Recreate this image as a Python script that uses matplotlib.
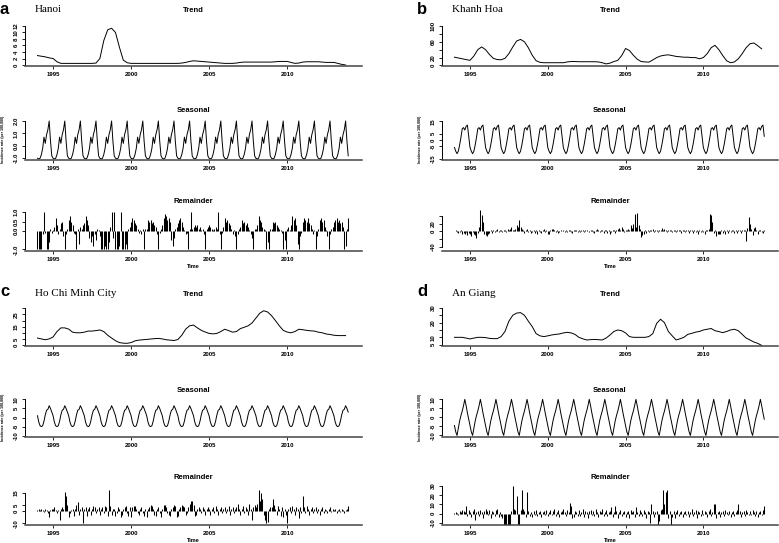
import numpy as np
import matplotlib.pyplot as plt

# monthly time axis 1994-2013 and quarterly points for the trend curves
months = 1994 + np.arange(240) / 12.0
quarters = 1994 + np.arange(80) / 4.0

# ---------------- a: Hanoi ----------------
hanoi_trend = [
    2.9, 2.7, 2.5, 2.2,   2.0, 1.0, 0.5, 0.5,   0.5, 0.5, 0.5, 0.5,
    0.5, 0.5, 0.5, 0.6,   2.0, 7.5, 10.8, 11.3, 10.0, 5.5, 1.5, 0.7,
    0.5, 0.5, 0.5, 0.5,   0.5, 0.5, 0.5, 0.5,   0.5, 0.5, 0.5, 0.5,
    0.5, 0.6, 0.8, 1.1,   1.3, 1.2, 1.1, 1.0,   0.9, 0.8, 0.7, 0.6,
    0.5, 0.5, 0.5, 0.6,   0.8, 0.9, 0.9, 0.9,   0.9, 0.9, 0.9, 0.9,
    0.9, 1.0, 1.1, 1.1,   1.1, 0.8, 0.5, 0.6,   0.9, 1.0, 1.0, 1.0,
    1.0, 0.9, 0.8, 0.8,   0.8, 0.5, 0.2, 0.0,
]
hanoi_season = [-1.0, -1.05, -1.0, -0.7, -0.2, 0.7, 0.2, 0.9, 1.3, 2.0, 0.4, -0.8]
hanoi_rem = [
    -1, -1, -1, -1, -0.2, 1.0, -0.1, -1, -1, -0.6, 0.1, -0.1,
    0.05, 0.2, 0.7, 0.3, -0.2, 0.1, 0.4, 0.5, -0.3, -1, -0.2, 0.1,
    0.6, 0.8, 0.5, 0.3, -0.1, -0.2, -1, 0.1, -0.7, 0.2, 0.1, 0.3,
    0.4, 0.8, 0.6, 0.3, -0.4, -0.6, -0.3, -0.8, -0.2, -0.5, 0.1, 0.05,
    -0.3, -1, -1, -1, -0.8, -1, -1, -0.6, 0.2, 1.0, -0.4, 1.0,
    -1, -1, -1, -0.8, 1.0, -1, -1, -1, -0.7, -1, 0.1, 0.2,
    0.5, 0.7, 0.6, 0.4, 0.3, 0.1, -0.1, 0.05, -0.2, 0.1, -1, 0.1,
    0.1, 0.6, 0.5, 0.6, 0.4, 0.5, 0.3, 0.2, -0.2, -1, -0.1, 0.1,
    0.3, 0.7, 0.9, 0.8, 0.6, 0.7, 0.5, -0.5, -0.8, -0.4, 0.1, 0.2,
    0.4, 0.6, 0.7, 0.5, 0.2, 0.05, -0.2, -0.1, -1, 0.1, 1.0, 0.1,
    0.2, 0.3, 0.2, 0.3, 0.1, 0.2, 0.05, 0.1, -0.2, -1, 0.1, 0.2,
    0.3, 0.2, 0.1, 0.05, 0.1, 0.2, 0.1, 1.0, -0.2, -1, -0.1, 0.2,
    0.7, 0.5, 0.6, 0.4, 0.3, 0.1, -0.2, 0.05, -0.3, -1, -0.2, 0.1,
    0.2, 0.6, 0.4, 0.5, 0.3, 0.4, 0.2, 0.05, -0.2, -0.4, -1, 0.1,
    0.1, 0.3, 0.8, 0.6, 0.5, 0.2, 0.1, 0.05, -1, -0.6, -1, 0.1,
    0.1, 0.5, 0.4, 0.5, 0.3, 0.2, 0.1, 0.05, -0.1, -1, -0.5, -1,
    0.1, 0.2, 0.05, 0.3, 0.8, 0.6, 0.7, 0.3, -0.7, -1, -0.3, -0.1,
    0.5, 0.7, 0.6, 0.5, 0.7, 0.4, 0.3, 0.1, -0.2, 0.05, -1, -0.3,
    0.1, 0.6, 0.7, 0.5, 0.6, 0.2, 0.05, -0.3, -1, -0.2, 0.1, 0.2,
    0.5, 0.6, 0.7, 0.5, 0.6, 0.4, 0.5, 0.2, -1, -0.8, 0.1, 0.7,
]

# ---------------- b: Khanh Hoa ----------------
khanh_trend = [
    21, 19, 17, 15,   13, 24, 40, 47,   40, 28, 18, 15,   14.5, 18, 30, 47,
    62, 66, 60, 45,   26, 12, 8, 7,     7, 7, 7, 7,       7, 9, 10, 10,
    9.5, 9.5, 9.5, 9.5, 9.5, 9, 7, 4,   6, 10, 13, 25,    43, 38, 26, 16,
    10, 9, 8.5, 14,   20, 24, 26, 27,   25, 23, 22, 21,   21, 20, 20, 17,
    20, 30, 45, 51,   40, 25, 12, 7,    9, 17, 30, 45,    55, 57, 50, 42,
]
khanh_season = [-6, -9, -11, -9, -4, 2, 9, 10, 8, 11, 12, 3]
khanh_rem = [
    0, 2, -3, -5, -2, 3, -6, -4, -8, -3, -10, -5,
    -8, -12, -3, -6, -10, -17, -4, 10, 54, 41, 25, -6,
    -10, -12, -8, -4, 2, -5, 3, -3, 4, 5, -2, 3,
    2, -3, 4, 3, -2, 5, 3, 6, 10, 4, 2, 5,
    15, 10, 28, 10, 6, 3, -4, 2, 5, -3, 4, -5,
    -3, 4, -5, 2, -6, 3, -2, -4, 3, 5, -3, 2,
    -8, -6, 3, 5, 7, 4, -3, 2, -4, -2, 3, 1,
    2, -3, 4, -2, 3, 2, -3, -4, 3, 4, 2, -2,
    3, -2, 2, 4, -3, 2, 3, 1, -2, 4, 2, -3,
    -4, 3, 5, 2, -3, 4, 2, -5, 3, 2, -4, 3,
    -6, -3, 4, 2, -4, 3, 6, 8, 3, 10, 5, -3,
    3, 2, 6, 4, 15, 8, 20, 45, 10, 48, 15, 5,
    -15, -10, -8, 3, -4, 2, -3, 3, 2, 5, -2, 3,
    2, -3, 4, 2, 8, 3, 5, 2, -3, 4, 2, 3,
    -2, 3, 2, -3, 4, 2, 3, -4, 2, 3, -2, 2,
    3, -4, 2, 3, -5, 2, -3, 3, -6, 2, -3, 3,
    -2, -8, 3, 2, 5, 45, 42, 25, -5, 3, -12, -8,
    -6, -8, 3, -5, 4, -6, 3, -4, 2, -3, 4, 2,
    -5, 3, -4, 2, 3, -5, 2, 3, 3, -25, 8, 36,
    20, 5, -10, 8, 12, 3, -6, 2, 4, -3, -5, 3,
]

# ---------------- c: Ho Chi Minh City ----------------
hcmc_trend = [
    5.7, 5.0, 4.3, 5.0,   6.6, 11, 14, 14,     13, 10.5, 10, 10,   10.5, 11.4, 11.4, 11.8,
    12.3, 11, 8, 5.7,     3.5, 2, 1.5, 1.4,    2, 3.4, 4, 4.3,     4.6, 4.9, 5.2, 5.4,
    5, 4.3, 4, 3.7,       4.5, 8, 13, 15.7,    16.3, 14, 12, 10.6, 9.5, 9.1, 9.5, 11,
    12.9, 11.8, 10.5, 11, 13.4, 14.5, 15.7, 18, 22, 26, 28, 27,    24, 20, 15.7, 12,
    10.6, 10, 11, 12.9,   12.5, 12, 11.6, 11.4, 10.5, 10, 9, 8.6,  8, 7.7, 7.7, 7.7,
]
hcmc_season = [1, -2.5, -4.5, -5, -4.5, -2, 1.5, 4, 4.5, 6.5, 5, 3]
hcmc_rem = [
    1, 2, 1, 2, 1, -1, 2, 1, -2, -5, 1, 2,
    2, 3, 1, -2, 1, -7, 2, 3, 2, 15.5, 12, 5,
    -5, -2, 1, 2, -4, 2, 5, 7, -3, 2, 3, -10,
    2, 3, -4, 2, 3, -3, 2, 4, 3, -2, 2, 3,
    -3, 2, 3, -2, 4, 3, -4, 17, 4, -3, 2, 2,
    -4, -2, 3, 2, -5, -3, 2, 3, 4, -2, -4, 3,
    -5, 3, 4, 4, 2, -2, -3, 2, 3, -2, -4, 2,
    -5, 2, 3, 5, 4, 2, -3, -4, 2, 3, -2, -5,
    2, 5, 5, 3, -2, -3, -4, 2, 3, 5, 4, -5,
    -4, 2, 3, 5, 4, 3, -3, -2, 3, 6, 8, 8,
    5, -4, -3, 2, 3, 2, -2, 3, 2, -3, 2, 3,
    2, -3, 2, 3, -2, 4, 2, -3, 2, 3, -2, 2,
    3, -2, 2, 4, -3, 2, 3, -2, 2, 3, 6, 2,
    -3, 2, 4, -2, 3, 2, -3, 6, 2, -7, 3, 5,
    3, 6, 17, 8, 15, 10, -3, -7, -10, -9, 2, 3,
    3, 10, 5, 2, -3, 4, 2, -4, 3, -5, 2, -3,
    -10, 2, 3, -2, 4, 2, -3, 3, 2, -6, 3, -2,
    12, 3, -2, 4, 2, -3, 2, 3, -2, 2, 3, -2,
    2, -3, 2, 3, -2, 2, 1, -2, 2, 3, -1, 2,
    1, 2, -2, 1, 2, -1, 2, 1, -2, 1, 2, 4,
]

# ---------------- d: An Giang ----------------
angiang_trend = [
    10, 10, 10, 9.5,     8.9, 9.5, 10, 10,    9.8, 9.3, 9.1, 9.1,  10.5, 14, 21, 25,
    26.5, 26.8, 25, 21,  17.3, 12.5, 11, 10.5, 11, 11.6, 12, 12.3, 13, 13.4, 13, 12,
    10, 9, 8.2, 8.4,     8.6, 8.4, 8.2, 9.5,  11.6, 14, 15, 14.5,  13, 10.5, 10, 10,
    10, 10, 10.5, 12.5,  19.5, 22.3, 20, 14,  11, 8.2, 9, 10,      12, 12.7, 13.5, 14,
    15, 15.5, 16, 14.5,  13.9, 13.2, 14, 15,  15.5, 14.5, 12, 9.5, 8.2, 6.8, 5.9, 4.5,
]
angiang_season = [-4.5, -8, -10, -6, -2, 1, 3.5, 6.5, 10, 6.5, 2.5, -1]
angiang_rem = [
    1, 2, 1, -2, 3, 2, 4, 3, 2, 8, -3, 4,
    2, -4, 3, 5, -7, 2, 3, -3, 4, 2, -5, 3,
    5, 3, -2, 4, -5, 3, 2, -3, 4, 5, -4, 2,
    -3, -5, -12, -12, -12, -12, -12, -12, 3, 30, 5, 4,
    19, -12, -12, 4, 26, 5, 3, -4, 24, 3, -3, 2,
    -4, 3, -2, 4, -3, 2, 3, -4, 2, 3, -2, 4,
    -3, 2, 4, -2, 3, 5, -3, 2, 4, -4, 2, 3,
    5, 2, -3, 4, 2, 12, 8, -5, -4, 3, 2, -3,
    4, -3, 2, 5, -4, 3, 2, -5, 3, 4, -2, 3,
    -3, 5, 2, -4, 3, 2, 5, -3, 2, 4, -3, 2,
    3, 7, -4, 2, 8, 3, -5, 2, 4, -3, 2, 3,
    -4, 2, 3, -5, 4, 2, 3, -4, 7, 2, -3, 4,
    2, -3, 4, 2, -5, 3, 2, -10, 10, 3, -4, 2,
    3, -12, -8, 4, 5, 26, 10, 24, 26, -5, 3, -12,
    -4, 3, -5, 2, 4, -3, 2, 3, -4, 2, 3, -2,
    3, -4, 2, 5, -3, 2, 4, -5, 3, 2, -3, 4,
    -2, 3, 2, -4, 3, 5, -3, 2, 10, 10, -5, 2,
    3, -4, 2, 3, -3, 4, 2, -2, 3, -4, 2, 3,
    -3, 2, 4, 10, 3, -4, 2, 3, -3, 4, 2, -2,
    3, -2, 4, 2, -3, 3, -4, 2, 3, -2, 4, 8,
]

year_ticks = [1995, 2000, 2005, 2010]
year_labels = ['1995', '2000', '2005', '2010']

W, H = 779, 543
fig = plt.figure(figsize=(W / 100, H / 100), dpi=100)
SANS = 'Liberation Sans'


def add_ax(l, t, r, b):
    return fig.add_axes([l / W, 1 - b / H, (r - l) / W, (b - t) / H])


def ftext(x, y, s, **kw):
    fig.text(x / W, 1 - y / H, s, **kw)


def style(ax, yticks, ylabels, ylim):
    ax.set_xlim(1993.2, 2014.8)
    ax.set_ylim(*ylim)
    ax.set_xticks(year_ticks)
    ax.set_xticklabels(year_labels, fontsize=4.3, family=SANS, fontweight='bold')
    ax.set_yticks(yticks)
    ax.set_yticklabels(ylabels, fontsize=4.3, family=SANS, fontweight='bold',
                       rotation=90, va='center')
    ax.spines['top'].set_visible(False)
    ax.spines['right'].set_visible(False)
    ax.spines['left'].set_bounds(min(yticks), max(yticks))
    ax.spines['left'].set_linewidth(0.7)
    ax.spines['bottom'].set_linewidth(1.1)
    ax.spines['bottom'].set_color('#444444')
    ax.tick_params(length=2, width=0.6, pad=2.5)
    ax.patch.set_alpha(0)


def panel(left, right, top, letter, city, trend, season, rem, spec):
    cx = (left + right) / 2
    # letter and city name
    ftext(left - 25, top + 9, letter, fontsize=12, fontweight='bold', family=SANS,
          va='center', ha='left')
    ftext(left + 10, top + 10, city, fontsize=8, family='Liberation Serif', va='center')
    rows = spec['rows']
    titles = ['Trend', 'Seasonal', 'Remainder']
    for i, (t, b, ty) in enumerate(rows):
        ax = add_ax(left, t, right, b)
        yt, yl, ylim = spec['ticks'][i]
        if i == 0:
            ax.plot(quarters, trend, color='black', lw=0.7)
        elif i == 1:
            ax.plot(months, np.tile(season, 20), color='black', lw=0.7)
            ftext(left - 21.5, (t + b) / 2, 'Incidence rate (per 100,000)', fontsize=2.6,
                  family=SANS, fontweight='bold', rotation=90, ha='center', va='center')
        else:
            ax.vlines(months, 0, rem, colors='black', lw=0.75)
            ftext(cx, b + 16, 'Time', fontsize=4, family=SANS, fontweight='bold',
                  ha='center', va='center')
        style(ax, yt, yl, ylim)
        ftext(cx, ty, titles[i], fontsize=5.5, family=SANS, fontweight='bold',
              ha='center', va='center')


panel(25, 362, 0, 'a', 'Hanoi', hanoi_trend, hanoi_season, hanoi_rem, {
    'rows': [(24, 65.5, 10), (119, 160, 110.7), (210, 251, 201.7)],
    'ticks': [
        ([0, 2, 4, 6, 8, 10, 12], ['0', '2', '4', '6', '8', '10', '12'], (-0.15, 12.6)),
        ([-1, 0, 1, 2], ['-1.0', '0.0', '1.0', '2.0'], (-1.14, 2.16)),
        ([-1, 0, 0.5, 1], ['-1.0', '0.0', '0.5', '1.0'], (-1.09, 1.12)),
    ]})

panel(442, 778, 0, 'b', 'Khanh Hoa', khanh_trend, khanh_season, khanh_rem, {
    'rows': [(24, 66, 10), (119, 160, 110.7), (210, 251, 201.7)],
    'ticks': [
        ([0, 20, 40, 60, 80, 100], ['0', '20', '', '60', '', '100'], (-1.3, 105)),
        ([-15, -5, 0, 5, 15], ['-15', '-5', '0', '5', '15'], (-16.1, 16.9)),
        ([-40, -20, 0, 20, 40], ['-40', '', '0', '20', ''], (-51, 55)),
    ]})

panel(25, 362, 283, 'c', 'Ho Chi Minh City', hcmc_trend, hcmc_season, hcmc_rem, {
    'rows': [(305, 346, 295), (397, 437, 390.7), (489, 525, 477.7)],
    'ticks': [
        ([0, 5, 10, 15, 20, 25, 30], ['0', '5', '', '15', '', '25', ''], (-0.8, 32.7)),
        ([-10, -5, 0, 5, 10], ['-10', '-5', '0', '5', '10'], (-10.7, 11.3)),
        ([-10, 0, 5, 15], ['-10', '0', '5', '15'], (-11.4, 18)),
    ]})

panel(442, 778, 283, 'd', 'An Giang', angiang_trend, angiang_season, angiang_rem, {
    'rows': [(305, 345.7, 295), (397, 436.7, 390.7), (484, 525, 477.7)],
    'ticks': [
        ([5, 10, 15, 20, 25, 30], ['5', '10', '', '20', '', '30'], (4.3, 32)),
        ([-10, -5, 0, 5, 10], ['-10', '-5', '0', '5', '10'], (-10.7, 11.3)),
        ([-10, 0, 10, 20, 30], ['-10', '0', '10', '20', '30'], (-12.4, 32.3)),
    ]})

fig.savefig('out.png', dpi=100)
